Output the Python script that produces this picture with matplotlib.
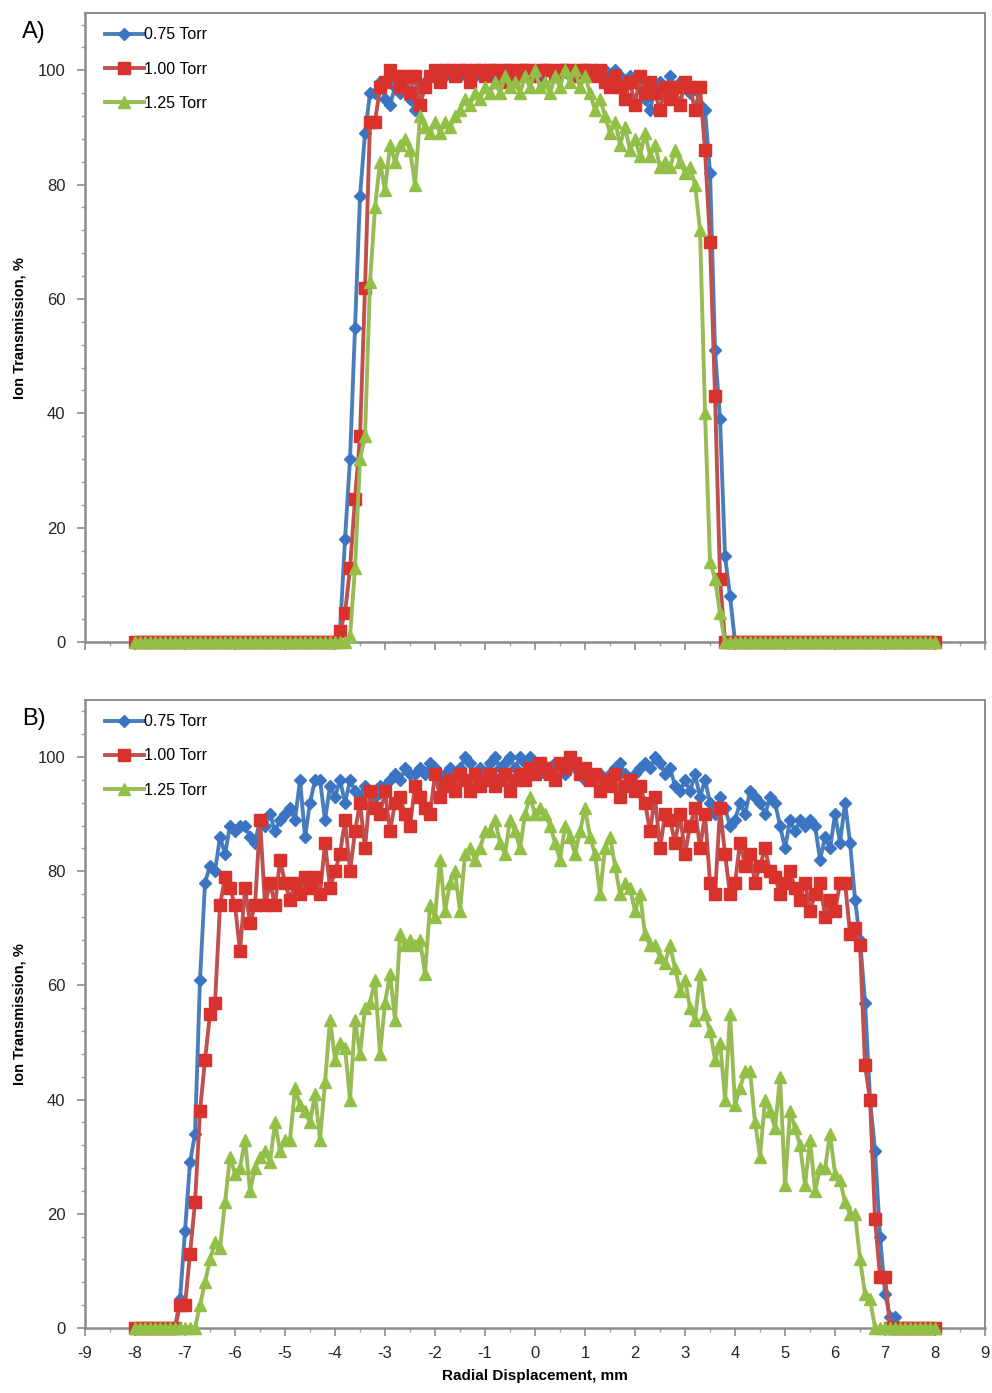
import numpy as np
import matplotlib
matplotlib.use("Agg")
import matplotlib.pyplot as plt
from matplotlib.ticker import MultipleLocator

plt.rcParams['font.family'] = ['Liberation Sans', 'DejaVu Sans']
plt.rcParams['axes.unicode_minus'] = False

# radial displacement, mm (0.1 mm steps from -8 to 8)
x = np.linspace(-8, 8, 161)
labels = ["0.75 Torr", "1.00 Torr", "1.25 Torr"]

# panel A
a_075 = ([0] * 41 +
         [2, 18, 32, 55, 78, 89, 96, 96, 98, 95,
          94, 97, 96, 98, 95, 93, 97, 98, 99, 99,
          100, 99, 100, 100, 99, 100, 100, 99, 100, 100,
          99, 100, 100, 99, 100, 100, 99, 100, 100, 100,
          99, 100, 100, 99, 100, 100, 99, 100, 100, 99,
          100, 100, 99, 100, 99, 100, 99, 98, 99, 98,
          97, 95, 93, 97, 98, 96, 99, 97, 98, 97,
          96, 97, 94, 93, 82, 51, 39, 15, 8] +
         [0] * 41)
a_100 = ([0] * 41 +
         [2, 5, 13, 25, 36, 62, 91, 91, 97, 98,
          100, 99, 97, 99, 96, 99, 94, 97, 99, 100,
          98, 100, 100, 99, 100, 100, 98, 100, 100, 99,
          100, 100, 98, 100, 100, 99, 100, 100, 100, 99,
          100, 100, 100, 99, 100, 100, 100, 99, 100, 100,
          100, 99, 100, 98, 97, 99, 97, 95, 98, 94,
          99, 96, 98, 96, 93, 97, 95, 97, 94, 98,
          97, 93, 97, 86, 70, 43, 11] +
         [0] * 43)
a_125 = ([0] * 43 +
         [1, 13, 32, 36, 63, 76, 84, 79,
          87, 84, 87, 88, 86, 80, 92, 90, 89, 91,
          89, 91, 90, 92, 93, 95, 94, 96, 95, 97,
          96, 98, 96, 99, 97, 98, 96, 99, 97, 100,
          97, 98, 96, 99, 97, 100, 98, 100, 97, 99,
          96, 93, 95, 92, 89, 91, 87, 90, 86, 88,
          85, 89, 85, 87, 83, 84, 83, 86, 84, 82,
          83, 80, 72, 40, 14, 11, 5] +
         [0] * 43)

# panel B
b_075 = ([0] * 9 +
         [5, 17, 29, 34, 61, 78, 81, 80, 86, 83,
          88, 87, 88, 88, 86, 85, 89, 88, 90, 87,
          89, 90, 91, 89, 96, 86, 92, 96, 96, 89,
          95, 93, 96, 92, 96, 94, 93, 95, 94, 93,
          95, 95, 96, 97, 96, 98, 97, 97, 98, 97,
          99, 98, 96, 97, 98, 97, 98, 100, 99, 97,
          98, 97, 99, 100, 98, 99, 100, 98, 100, 99,
          100, 98, 99, 97, 98, 99, 98, 97, 99, 98,
          97, 96, 97, 96, 97, 96, 97, 98, 99, 97,
          96, 97, 98, 99, 98, 100, 99, 97, 98, 95,
          94, 96, 94, 97, 93, 96, 92, 90, 93, 91,
          88, 89, 92, 90, 94, 93, 92, 90, 93, 92,
          88, 84, 89, 87, 89, 88, 89, 88, 82, 86,
          84, 90, 85, 92, 85, 75, 68, 57, 40, 31,
          16, 6, 2, 2] +
         [0] * 8)
b_100 = ([0] * 9 +
         [4, 4, 13, 22, 38, 47, 55, 57, 74, 79,
          77, 74, 66, 77, 71, 74, 89, 74, 78, 74,
          82, 78, 75, 78, 76, 79, 77, 79, 76, 85,
          77, 80, 83, 89, 80, 87, 92, 84, 94, 91,
          90, 94, 87, 92, 93, 90, 88, 95, 93, 91,
          90, 97, 93, 95, 96, 94, 97, 96, 94, 97,
          95, 96, 97, 95, 96, 97, 94, 96, 97, 96,
          98, 97, 99, 98, 97, 96, 99, 98, 100, 99,
          97, 98, 96, 97, 94, 96, 95, 97, 93, 95,
          96, 94, 95, 92, 87, 93, 84, 90, 89, 85,
          90, 83, 88, 91, 84, 90, 78, 76, 91, 83,
          76, 78, 85, 81, 83, 78, 81, 84, 80, 79,
          76, 78, 80, 77, 75, 78, 73, 76, 78, 72,
          75, 73, 78, 78, 69, 70, 67, 46, 40, 19,
          9, 9] +
         [0] * 10)
b_125 = ([0] * 13 +
         [4, 8, 12, 15, 14, 22, 30, 27, 28, 33,
          24, 28, 30, 31, 29, 36, 31, 33, 33, 42,
          39, 38, 36, 41, 33, 43, 54, 47, 50, 49,
          40, 54, 48,
          56, 57, 61, 48, 57, 62, 54, 69, 67, 68,
          67, 68, 62, 74, 72, 82, 73, 78, 80, 73,
          83, 84, 82, 84, 87, 87, 89, 85, 83, 89,
          87, 84, 90, 93, 90, 91, 90, 88, 85, 82,
          88, 86, 83, 87, 91, 86, 83, 76, 84, 86,
          81, 76, 78, 77, 73, 76, 69, 67, 67, 65,
          64, 67, 63, 59, 61, 56, 54, 62, 55, 52,
          47, 50, 40, 55, 39, 42, 45, 45, 36, 30,
          40, 38, 35, 44, 25, 38, 35, 32, 25, 33,
          24, 28, 28, 34, 27, 26, 22, 20, 20, 12,
          6, 5] +
         [0] * 13)

line_cols = ['#4A7EBB', '#C0504D', '#98BB55']
mark_cols = ['#3B74C2', '#D9322C', '#92C046']
markers = ['D', 's', '^']
msizes = [6, 8, 8.5]

fig = plt.figure(figsize=(9.92, 13.93), dpi=100)
ax_a = fig.add_axes([0.0857, 0.5391, 0.9073, 0.4515])
ax_b = fig.add_axes([0.0857, 0.0467, 0.9073, 0.4508])

for ax, series, tag in [(ax_a, [a_075, a_100, a_125], 'A)'),
                        (ax_b, [b_075, b_100, b_125], 'B)')]:
    for k in range(3):
        ax.plot(x, series[k], color=line_cols[k], lw=2.8, marker=markers[k],
                ms=msizes[k], mfc=mark_cols[k], mec=mark_cols[k],
                label=labels[k], clip_on=False, zorder=3 + k)
    ax.set_xlim(-9, 9)
    ax.set_ylim(0, 110)
    ax.xaxis.set_major_locator(MultipleLocator(1))
    ax.xaxis.set_minor_locator(MultipleLocator(0.5))
    ax.set_yticks([0, 20, 40, 60, 80, 100])
    ax.yaxis.set_minor_locator(MultipleLocator(4))
    ax.tick_params(which='major', direction='out', length=6, width=1.2,
                   color='#8C8C8C', labelsize=12, labelcolor='#262626')
    ax.tick_params(which='minor', direction='out', length=3, width=1,
                   color='#A0A0A0')
    ax.tick_params(axis='y', pad=8)
    for s in ['left', 'bottom']:
        ax.spines[s].set_color('#8C8C8C')
        ax.spines[s].set_linewidth(1.8)
    for s in ['top', 'right']:
        ax.spines[s].set_color('#8C8C8C')
        ax.spines[s].set_linewidth(1.4)
    ax.set_ylabel('Ion Transmission, %', fontsize=10.5, fontweight='bold')
    ax.yaxis.set_label_coords(-0.065, 0.5)
    ax.legend(loc='upper left', frameon=False, fontsize=11.5,
              handlelength=2.4, handletextpad=0.0, labelspacing=1.2,
              borderaxespad=0.3, bbox_to_anchor=(0.01, 0.995))
    ax.text(-0.07, 0.97, tag, transform=ax.transAxes, fontsize=17,
            ha='left', va='center')

ax_a.tick_params(axis='x', labelbottom=False)
ax_b.tick_params(axis='x', pad=7)
ax_b.set_xlabel('Radial Displacement, mm', fontsize=11, fontweight='bold',
                labelpad=6)

fig.savefig('out.png', dpi=100)
